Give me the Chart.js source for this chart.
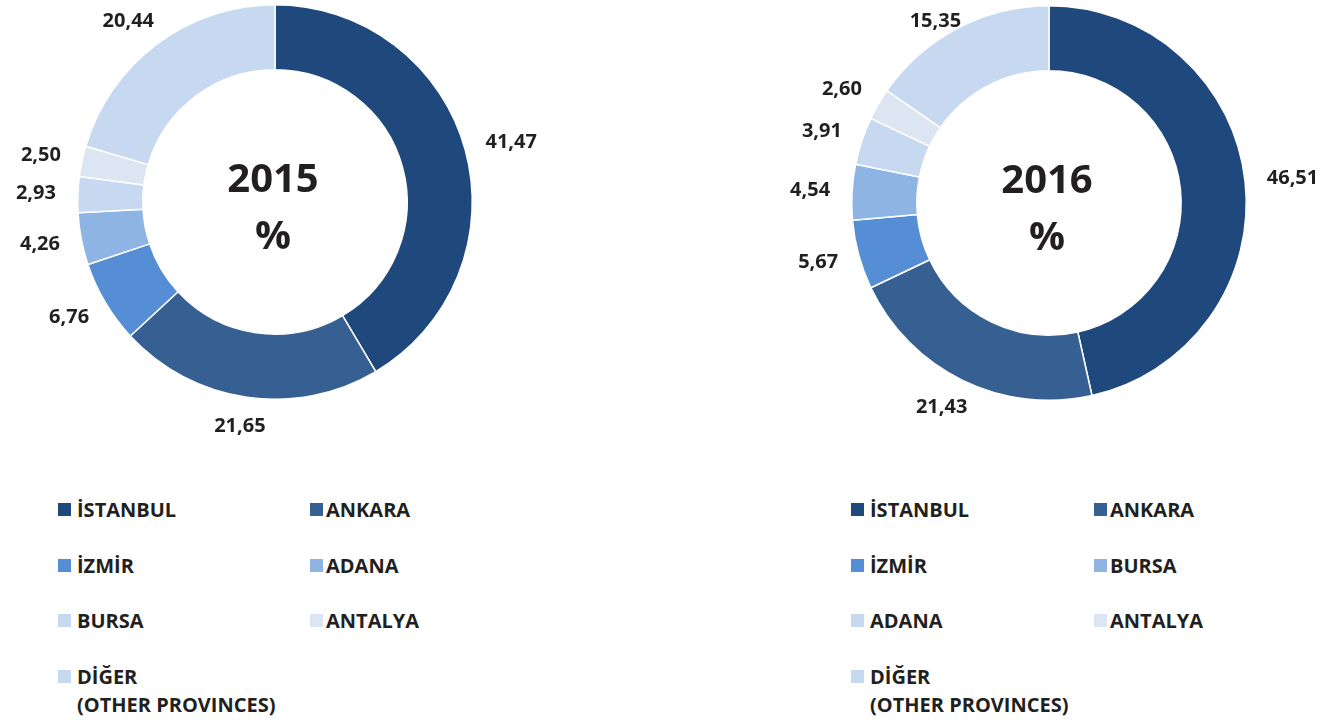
<!DOCTYPE html>
<html>
<head>
<meta charset="utf-8">
<script src="https://cdn.jsdelivr.net/npm/chart.js@4.4.1/dist/chart.umd.min.js"></script>
<style>
  html, body { margin: 0; padding: 0; background: #fff; }
  body { width: 1322px; height: 722px; position: relative; overflow: hidden; font-family: "Open Sans", sans-serif; }
  canvas { position: absolute; top: 0; }
  #c2015 { left: 0; }
  #c2016 { left: 776px; }
  .legend { position: absolute; top: 496px; display: grid; row-gap: 0; }
  #lg2015 { left: 58px; grid-template-columns: 252px 160px; }
  #lg2016 { left: 851px; grid-template-columns: 243px 160px; }
  .item { display: flex; align-items: flex-start; height: 55.7px; font-weight: 700; font-size: 20px; line-height: 28px; color: #231f20; white-space: pre-line; }
  .box { width: 13px; height: 13px; margin-top: 7px; margin-right: 6px; flex: none; }
  .item:nth-child(even) .box { margin-right: 3px; }
</style>
</head>
<body>
<canvas id="c2015" width="550" height="460"></canvas>
<canvas id="c2016" width="546" height="460"></canvas>
<div class="legend" id="lg2015"></div>
<div class="legend" id="lg2016"></div>
<script>
// chart data
var years = ['2015', '2016'];

var categories2015 = ['İSTANBUL', 'ANKARA', 'İZMİR', 'ADANA', 'BURSA', 'ANTALYA', 'DİĞER\n(OTHER PROVINCES)'];
var values2015 = [41.47, 21.65, 6.76, 4.26, 2.93, 2.50, 20.44];

var categories2016 = ['İSTANBUL', 'ANKARA', 'İZMİR', 'BURSA', 'ADANA', 'ANTALYA', 'DİĞER\n(OTHER PROVINCES)'];
var values2016 = [46.51, 21.43, 5.67, 4.54, 3.91, 2.60, 15.35];

var palette = ['#1F497D', '#376092', '#558ED5', '#8EB4E3', '#C6D9F1', '#DCE6F2', '#C6D9F1'];

var textColor = '#231f20';

function fmt(v) {
    return v.toFixed(2).replace('.', ',');
}

// draws value labels around the ring and the year in the hole
var ringText = {
    id: 'ringText',
    afterDatasetsDraw: function(chart) {
        var ctx = chart.ctx;
        var meta = chart.getDatasetMeta(0);
        var values = chart.data.datasets[0].data;
        ctx.save();
        ctx.fillStyle = textColor;
        ctx.textAlign = 'center';
        ctx.textBaseline = 'middle';
        ctx.font = '700 20px "Open Sans"';
        meta.data.forEach(function(arc, i) {
            var mid = (arc.startAngle + arc.endAngle) / 2;
            var txt = fmt(values[i]);
            var w = ctx.measureText(txt).width;
            var h = 15;
            var r = arc.outerRadius + 22;
            var cx = Math.cos(mid), sy = Math.sin(mid);
            var x = arc.x + r * cx + cx * w / 2;
            var y = arc.y + r * sy + sy * h / 2;
            // keep labels inside the canvas at the top
            y = Math.max(y, 21);
            ctx.fillText(txt, x, y);
        });
        var a0 = meta.data[0];
        ctx.font = '700 40px "Open Sans"';
        ctx.fillText(chart.options.plugins.centerTitle, a0.x - 2, a0.y - 21);
        ctx.fillText('%', a0.x - 2, a0.y + 36);
        ctx.restore();
    }
};

function makeChart(canvasId, legendId, year, categories, values, pad) {
    var chart = new Chart(document.getElementById(canvasId), {
        type: 'doughnut',
        data: {
            labels: categories,
            datasets: [{
                data: values,
                backgroundColor: palette,
                borderColor: '#ffffff',
                borderWidth: 1.5
            }]
        },
        options: {
            responsive: false,
            animation: false,
            cutout: '67%',
            layout: { padding: pad },
            plugins: {
                legend: { display: false },
                tooltip: { enabled: false },
                centerTitle: year
            }
        },
        plugins: [ringText]
    });

    // html legend in two columns, built from the chart's own legend items
    var items = chart.options.plugins.legend.labels.generateLabels(chart);
    var html = '';
    items.forEach(function(it) {
        html += '<div class="item"><span class="box" style="background:' + it.fillStyle + '"></span><span>' + it.text + '</span></div>';
    });
    document.getElementById(legendId).innerHTML = html;
    return chart;
}

makeChart('c2015', 'lg2015', years[0], categories2015, values2015, { top: 4, bottom: 60 });
makeChart('c2016', 'lg2016', years[1], categories2016, values2016, { top: 5, bottom: 59 });
</script>
</body>
</html>
